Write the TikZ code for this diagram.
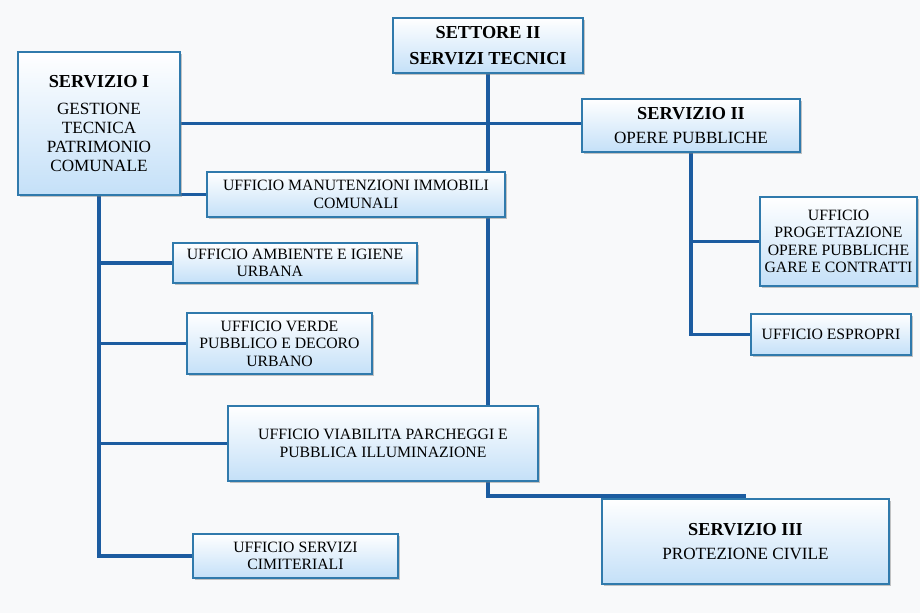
\documentclass[tikz,border=0pt]{standalone}
\usepackage{fontspec}
\setmainfont{Liberation Serif}
\usepackage{tikz}
\usetikzlibrary{positioning, shadows, calc}
\definecolor{linkblue}{RGB}{28, 92, 160}
\definecolor{edgeblue}{RGB}{48, 122, 172}
\definecolor{fillblue}{RGB}{196, 224, 248}
\definecolor{paper}{RGB}{248, 249, 250}
\newcommand{\unithead}[1]{{\fontsize{13}{15}\selectfont\bfseries #1}}
\pgfdeclarelayer{canvas}
\pgfdeclarelayer{links}
\pgfsetlayers{canvas,links,main}

\begin{document}
\begin{tikzpicture}[
  unitbox/.style={draw=edgeblue, line width=1.1pt, top color=white, bottom color=fillblue,
    drop shadow={shadow xshift=1.5pt, shadow yshift=-1.5pt, opacity=0.45},
    align=center, inner sep=2pt},
  servbox/.style={unitbox, font=\fontsize{12.2}{13.5}\selectfont},
  officebox/.style={unitbox, font=\fontsize{11.2}{12.5}\selectfont},
  link/.style={draw=linkblue, line width=2.6pt}
]
  \useasboundingbox (0,0) rectangle (23,-15.325);

  % Settore and the three services
  \node[servbox, minimum width=4.75cm, minimum height=1.375cm] (settore) at (12.2,-1.1375)
    {\unithead{SETTORE II}\\[5pt]\unithead{SERVIZI TECNICI}};
  \node[servbox, minimum width=4.05cm, minimum height=3.575cm] (serv1) at (2.475,-3.0875)
    {\unithead{SERVIZIO I}\\[6pt]GESTIONE\\TECNICA\\PATRIMONIO\\COMUNALE};
  \node[servbox, minimum width=5.45cm, minimum height=1.325cm] (serv2) at (17.275,-3.1375)
    {\unithead{SERVIZIO II}\\[4pt]OPERE PUBBLICHE};
  \node[servbox, minimum width=7.175cm, minimum height=2.125cm] (serv3) at (18.6375,-13.5375)
    {\unithead{SERVIZIO III}\\[4pt]PROTEZIONE CIVILE};

  % Uffici of servizio I
  \node[officebox, minimum width=7.45cm, minimum height=1.125cm] (manut) at (8.9,-4.8625)
    {UFFICIO MANUTENZIONI IMMOBILI\\COMUNALI};
  \node[officebox, minimum width=6.1cm, minimum height=1cm] (ambiente) at (7.375,-6.575)
    {UFFICIO AMBIENTE E IGIENE\\URBANA\hspace*{3.2em}};
  \node[officebox, minimum width=4.625cm, minimum height=1.525cm] (verde) at (6.9875,-8.5875)
    {UFFICIO VERDE\\PUBBLICO E DECORO\\URBANO};
  \node[officebox, minimum width=7.75cm, minimum height=1.875cm] (viab) at (9.575,-11.0875)
    {UFFICIO VIABILITA PARCHEGGI E\\PUBBLICA ILLUMINAZIONE};
  \node[officebox, minimum width=5.125cm, minimum height=1.1cm] (cimit) at (7.3875,-13.9)
    {UFFICIO SERVIZI\\CIMITERIALI};

  % Uffici of servizio II
  \node[officebox, minimum width=3.925cm, minimum height=2.225cm] (progett) at (20.9625,-6.0375)
    {UFFICIO\\PROGETTAZIONE\\OPERE PUBBLICHE\\GARE E CONTRATTI};
  \node[officebox, minimum width=4cm, minimum height=1.025cm] (espropri) at (20.775,-8.3625)
    {UFFICIO ESPROPRI};

  % connectors
  \begin{pgfonlayer}{links}
    \draw[link] (settore.south) |- ([yshift=1.5pt]serv3.north);
    \draw[link] (serv1.east) -- (serv1.east -| serv2.west);
    \draw[link] (manut.west) -- (manut.west -| serv1.east);
    \draw[link] (serv1.south) |- (cimit.west);
    \foreach \n in {ambiente, verde, viab}
      \draw[link] (serv1.south |- \n.west) -- (\n.west);
    \draw[link] (serv2.south) |- (espropri.west);
    \draw[link] (serv2.south |- progett.west) -- (progett.west);
  \end{pgfonlayer}

  \begin{pgfonlayer}{canvas}
    \fill[paper] (0,0) rectangle (23,-15.325);
  \end{pgfonlayer}
\end{tikzpicture}
\end{document}
